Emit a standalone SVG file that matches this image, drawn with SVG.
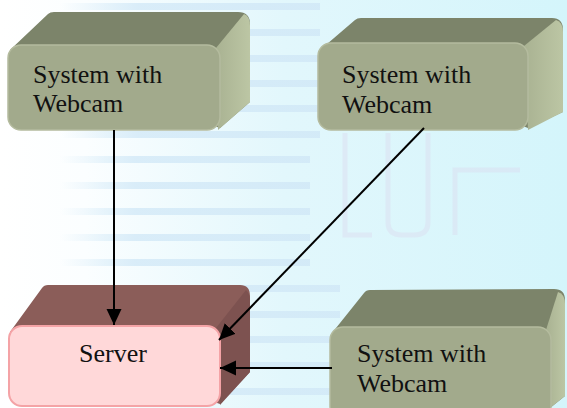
<svg xmlns="http://www.w3.org/2000/svg" width="567" height="408" viewBox="0 0 567 408">
<style>
.lbl{font-family:"Liberation Serif","Times New Roman",serif;font-size:26px;fill:#111}
.gtop{fill:#7c846a}
.gside{fill:url(#gside)}
.gfront{fill:#a2aa8c;stroke:#b4bb9e;stroke-width:1.5}
.rtop{fill:#8b5d59}
.rside{fill:#7d5250}
.rfront{fill:#ffd8d9;stroke:#f4a3a6;stroke-width:2}
.edge{stroke:#000;stroke-width:2;fill:none}
</style>
<defs>
<linearGradient id="bg" x1="0" y1="0" x2="1" y2="0">
<stop offset="0" stop-color="#ffffff"/>
<stop offset="0.15" stop-color="#fbfeff"/>
<stop offset="0.5" stop-color="#e2f7fc"/>
<stop offset="1" stop-color="#d4f5fb"/>
</linearGradient>
<linearGradient id="stripeFade" x1="0" y1="0" x2="1" y2="0">
<stop offset="0" stop-color="#d6ebf8" stop-opacity="0"/>
<stop offset="0.3" stop-color="#d6ebf8" stop-opacity="0.9"/>
<stop offset="1" stop-color="#d2e9f7" stop-opacity="0.9"/>
</linearGradient>
<linearGradient id="gside" x1="0" y1="0" x2="1" y2="0">
<stop offset="0" stop-color="#a9b292"/>
<stop offset="1" stop-color="#bcc6a4"/>
</linearGradient>
<marker id="ah" markerUnits="userSpaceOnUse" markerWidth="18" markerHeight="16" refX="16" refY="7.5" orient="auto">
<path d="M0,0 L16,7.5 L0,15 Z" fill="#000"/>
</marker>
</defs>
<g id="background">
<rect width="567" height="408" fill="url(#bg)"/>
<g fill="url(#stripeFade)">
<rect x="60" y="3" width="260" height="7"/>
<rect x="60" y="29" width="260" height="7"/>
<rect x="60" y="55" width="260" height="7"/>
<rect x="60" y="80" width="260" height="7"/>
<rect x="60" y="105" width="260" height="7"/>
<rect x="60" y="131" width="260" height="7"/>
<rect x="60" y="156" width="250" height="7"/>
<rect x="60" y="182" width="250" height="7"/>
<rect x="60" y="208" width="250" height="7"/>
<rect x="60" y="234" width="250" height="7"/>
<rect x="60" y="259" width="250" height="7"/>
<rect x="60" y="285" width="280" height="7"/>
<rect x="60" y="311" width="280" height="7"/>
<rect x="60" y="336" width="280" height="7"/>
<rect x="60" y="362" width="280" height="7"/>
<rect x="60" y="388" width="280" height="7"/>
</g>
<g fill="none" stroke="#dcdcef" stroke-width="5" opacity="0.45">
<path d="M345,133 V235 H372"/>
<path d="M388,133 V222 Q388,235 402,235 H414 Q428,235 428,222 V133"/>
<path d="M455,235 V170 H520"/>
</g>
</g>
<g id="node-webcam1">
<path class="gtop" d="M10,50 L48,14 Q50,12 54,12 L238,12 Q250,12 250,24 L250,102 L220,128 Z"/>
<path class="gside" d="M216,48 L244,14 Q250,16 250,26 L250,102 L218,130 Z"/>
<rect class="gfront" x="8" y="45" width="212" height="85" rx="13"/>
<text class="lbl" x="33" y="83">System with</text>
<text class="lbl" x="33" y="112">Webcam</text>
</g>
<g id="node-webcam2">
<path class="gtop" d="M320,50 L355,20 Q357,18 361,18 L552,18 Q563,18 563,30 L563,112 L528,128 Z"/>
<path class="gside" d="M524,46 L556,20 Q563,22 563,32 L563,112 L528,130 Z"/>
<rect class="gfront" x="318" y="43" width="210" height="87" rx="13"/>
<text class="lbl" x="342" y="83">System with</text>
<text class="lbl" x="342" y="113">Webcam</text>
</g>
<g id="node-server">
<path class="rtop" d="M10,332 L42,288 Q44,285 48,285 L240,285 Q250,285 250,296 L250,372 L220,404 Z"/>
<path class="rside" d="M216,328 L246,290 Q250,294 250,300 L250,372 L220,405 Z"/>
<rect class="rfront" x="9" y="326" width="211" height="80" rx="13"/>
<text class="lbl" x="79" y="362">Server</text>
</g>
<g id="node-webcam3">
<path class="gtop" d="M332,333 L364,293 Q366,290 370,290 L554,289 Q565,289 565,300 L565,396 L550,408 L332,408 Z"/>
<path class="gside" d="M546,330 L558,292 Q565,294 565,304 L565,396 L550,408 Z"/>
<rect class="gfront" x="330" y="327" width="221" height="92" rx="13"/>
<text class="lbl" x="357" y="362">System with</text>
<text class="lbl" x="357" y="392">Webcam</text>
</g>
<g id="connectors">
<line class="edge" x1="114" y1="130" x2="114" y2="325" marker-end="url(#ah)"/>
<line class="edge" x1="424" y1="128" x2="219" y2="340" marker-end="url(#ah)"/>
<line class="edge" x1="332" y1="368" x2="220" y2="368" marker-end="url(#ah)"/>
</g>
</svg>
